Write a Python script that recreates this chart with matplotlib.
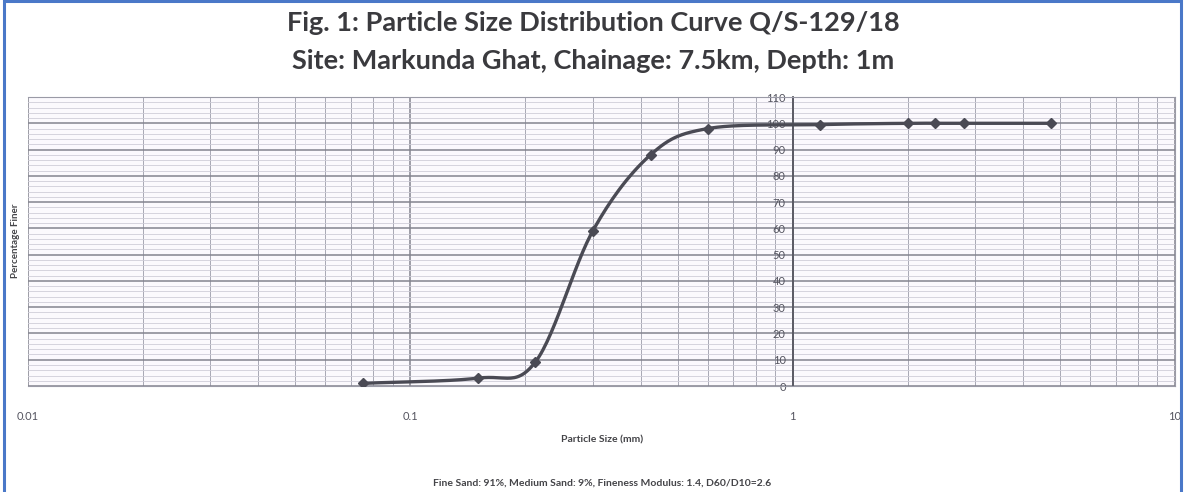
import matplotlib.pyplot as plt
import numpy as np
from matplotlib.patches import Rectangle
from matplotlib.ticker import FixedLocator, LogLocator, NullFormatter, MultipleLocator

# sieve sizes (mm) and percentage finer
sizes = [0.075, 0.15, 0.212, 0.3, 0.425, 0.6, 1.18, 2.0, 2.36, 2.8, 4.75]
finer = [1, 3, 9, 59, 88, 98, 99.5, 100, 100, 100, 100]

title1 = "Fig. 1: Particle Size Distribution Curve Q/S-129/18"
title2 = "Site: Markunda Ghat, Chainage: 7.5km, Depth: 1m"
note = "Fine Sand: 91%, Medium Sand: 9%, Fineness Modulus: 1.4, D60/D10=2.6"
xticks = [0.01, 0.1, 1, 10]
xticklabels = ["0.01", "0.1", "1", "10"]

plt.rcParams['font.family'] = ['Lato', 'DejaVu Sans']


def smooth(xs, ys, n=30):
    # catmull-rom through the points in log-x space, like a spreadsheet "smoothed line"
    lx = np.log10(xs)
    y = np.asarray(ys, float)
    px = np.concatenate([[2 * lx[0] - lx[1]], lx, [2 * lx[-1] - lx[-2]]])
    py = np.concatenate([[2 * y[0] - y[1]], y, [2 * y[-1] - y[-2]]])
    ox, oy = [], []
    t = np.linspace(0, 1, n)
    for i in range(1, len(px) - 2):
        p0, p1, p2, p3 = px[i - 1:i + 3]
        q0, q1, q2, q3 = py[i - 1:i + 3]
        for a, b, c, d, out in ((p0, p1, p2, p3, ox), (q0, q1, q2, q3, oy)):
            out.extend(0.5 * (2 * b + (-a + c) * t + (2 * a - 5 * b + 4 * c - d) * t ** 2
                              + (-a + 3 * b - 3 * c + d) * t ** 3))
    return 10 ** np.array(ox), np.array(oy)


fig = plt.figure(figsize=(11.86, 4.92), dpi=100)
fig.patches.append(Rectangle((0.003, -0.05), 0.993, 1.047, transform=fig.transFigure,
                             fill=False, edgecolor='#4a78c8', linewidth=2.2))

ax = fig.add_axes([0.0236, 0.2154, 0.9671, 0.5874])
ax.set_facecolor('#fbf9fd')
ax.set_xscale('log')
ax.set_xlim(0.01, 10)
ax.set_ylim(0, 110)

sx, sy = smooth(sizes, finer)
ax.plot(sx, sy, color='#4a4a54', linewidth=2.4, zorder=3)
ax.plot(sizes, finer, linestyle='none', marker='D', markersize=5.5,
        color='#4a4a54', zorder=4)

ax.xaxis.set_major_locator(FixedLocator(xticks))
ax.set_xticklabels(xticklabels)
ax.xaxis.set_minor_locator(LogLocator(base=10, subs=np.arange(2, 10)))
ax.xaxis.set_minor_formatter(NullFormatter())
ax.yaxis.set_major_locator(MultipleLocator(10))
ax.yaxis.set_minor_locator(MultipleLocator(2))

ax.grid(which='major', axis='y', color='#84848f', linewidth=1.1)
ax.grid(which='minor', axis='y', color='#cfcdd8', linewidth=0.6)
ax.grid(which='major', axis='x', color='#84848f', linewidth=1.1)
ax.grid(which='minor', axis='x', color='#a8a8b4', linewidth=0.7)
ax.set_axisbelow(True)

ax.spines['left'].set_position(('data', 1))
ax.spines['left'].set_color('#55555f')
ax.spines['left'].set_linewidth(1.3)
for s in ('top', 'right', 'bottom'):
    ax.spines[s].set_color('#9a9aa6')
    ax.spines[s].set_linewidth(0.8)

ax.tick_params(axis='y', which='both', length=0, labelsize=8, labelcolor='#555560', pad=5)
ax.tick_params(axis='x', which='both', length=0, labelsize=8, labelcolor='#555560', pad=18)

fig.text(0.5, 0.953, title1, ha='center', va='center', fontsize=19.5, fontweight='bold',
         color='#3a3a3e')
fig.text(0.5, 0.876, title2, ha='center', va='center', fontsize=19.5, fontweight='bold',
         color='#3a3a3e')
fig.text(0.013, 0.51, "Percentage Finer", rotation=90, ha='center', va='center',
         fontsize=7, fontweight='bold', color='#444448')
fig.text(0.508, 0.106, "Particle Size (mm)", ha='center', va='center', fontsize=7.5,
         fontweight='bold', color='#444448')
fig.text(0.508, 0.018, note, ha='center', va='center', fontsize=7.5, fontweight='bold',
         color='#444448')

fig.savefig('out.png', dpi=100)
